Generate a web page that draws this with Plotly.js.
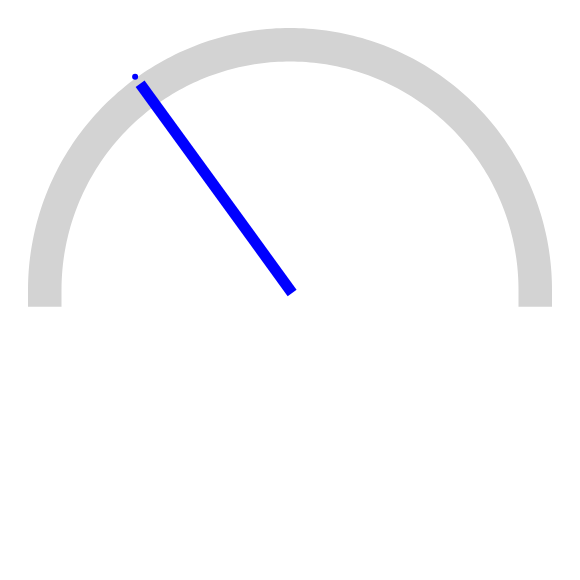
<!DOCTYPE html>
<html>
<head>
<meta charset="utf-8">
<script src="https://cdn.plot.ly/plotly-3.0.1.min.js"></script>
<style>html,body{margin:0;padding:0;background:#fff;}#chart{width:580px;height:580px;}</style>
</head>
<body>
<div id="chart"></div>
<script>
// Gauge data
const gaugeMin = 0;
const gaugeMax = 100;
const gaugeValue = 30;

// Geometry (pixel-like units, centre of gauge at origin)
const arcRadius = 245.25;
const arcWidth = 33.5;
const needleLength = 255;
const needleBack = 3.6;
const dotRadius = 263.5;

function valueToAngle(v) {
  return Math.PI * (1 - (v - gaugeMin) / (gaugeMax - gaugeMin));
}

// Arc track: from min to max, extended by half the width (square cap look)
const arcX = [], arcY = [];
arcX.push(-arcRadius); arcY.push(-arcWidth / 2);
for (let d = 180; d >= 0; d -= 1) {
  const a = d * Math.PI / 180;
  arcX.push(arcRadius * Math.cos(a));
  arcY.push(arcRadius * Math.sin(a));
}
arcX.push(arcRadius); arcY.push(-arcWidth / 2);

const th = valueToAngle(gaugeValue);
const needleX = [-needleBack * Math.cos(th), needleLength * Math.cos(th)];
const needleY = [-needleBack * Math.sin(th), needleLength * Math.sin(th)];

const traces = [
  {type: 'scatter', mode: 'lines', x: arcX, y: arcY,
   line: {color: '#d3d3d3', width: arcWidth, simplify: false}, hoverinfo: 'skip', cliponaxis: false},
  {type: 'scatter', mode: 'lines', x: needleX, y: needleY,
   line: {color: '#0000ff', width: 11, simplify: false}, hoverinfo: 'skip', cliponaxis: false},
  {type: 'scatter', mode: 'markers', x: [dotRadius * Math.cos(th)], y: [dotRadius * Math.sin(th)],
   marker: {color: '#0000ff', size: 6}, hoverinfo: 'skip', cliponaxis: false}
];

const layout = {
  width: 580, height: 580,
  margin: {l: 0, r: 0, t: 0, b: 0},
  showlegend: false,
  paper_bgcolor: '#ffffff', plot_bgcolor: '#ffffff',
  xaxis: {visible: false, range: [-290, 290], fixedrange: true},
  yaxis: {visible: false, range: [-290, 290], fixedrange: true}
};

Plotly.newPlot('chart', traces, layout, {displayModeBar: false, staticPlot: true});
</script>
</body>
</html>
